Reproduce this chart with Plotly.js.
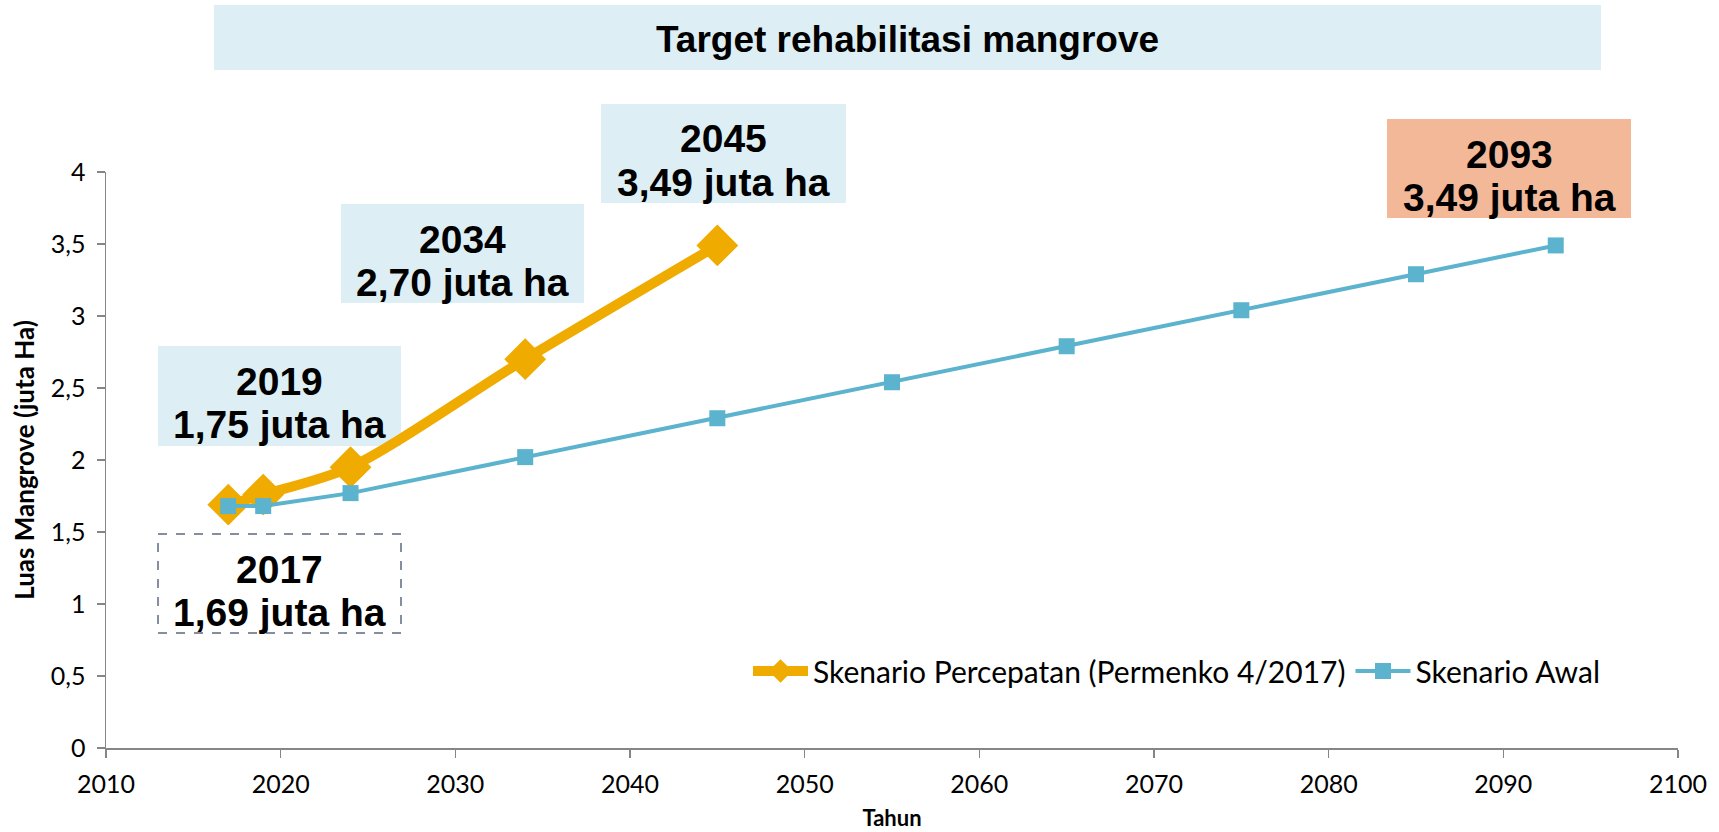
<!DOCTYPE html>
<html>
<head>
<meta charset="utf-8">
<script src="https://cdn.plot.ly/plotly-3.0.1.min.js"></script>
<style>
html,body{margin:0;padding:0;background:#fff;}
#chart{width:1719px;height:832px;}
</style>
</head>
<body>
<div id="chart"></div>
<script>
// ---- Data ----
var yearsPercepatan = [2017, 2019, 2024, 2034, 2045];
var valuesPercepatan = [1.69, 1.76, 1.95, 2.70, 3.49];
var yearsAwal = [2017, 2019, 2024, 2034, 2045, 2055, 2065, 2075, 2085, 2093];
var valuesAwal = [1.68, 1.68, 1.77, 2.02, 2.29, 2.54, 2.79, 3.04, 3.29, 3.49];
var seriesNames = ["Skenario Percepatan (Permenko 4/2017)", "Skenario Awal"];
var chartTitle = "Target rehabilitasi mangrove";
var xTitle = "Tahun";
var yTitle = "Luas Mangrove (juta Ha)";
var calloutYears = ["2017", "2019", "2034", "2045", "2093"];
var calloutValues = ["1,69 juta ha", "1,75 juta ha", "2,70 juta ha", "3,49 juta ha", "3,49 juta ha"];

// ---- Layout geometry (pixels) ----
var W = 1719, H = 832;
var mL = 106, mR = 41, mT = 172, mB = 84;
var pw = W - mL - mR, ph = H - mT - mB;
function px(x){ return (x - mL) / pw; }
function py(y){ return (H - mB - y) / ph; }

var lightBlue = "#DDEFF4";
var salmon = "#F2B898";
// callout boxes: [x0, x1, y0, y1, fill, dashed]
var boxes = [
  [158, 401, 534, 633, "rgba(0,0,0,0)", true],
  [158, 401, 346, 446, lightBlue, false],
  [341, 584, 204, 303, lightBlue, false],
  [601, 846, 104, 203, lightBlue, false],
  [1387, 1631, 119, 218, salmon, false]
];

var calloutFont = {family: "Liberation Sans, Arial, sans-serif", size: 39, color: "#000"};
var shapes = [{
  type: "rect", xref: "paper", yref: "paper", layer: "below",
  x0: px(214), x1: px(1601), y0: py(70), y1: py(5),
  fillcolor: lightBlue, line: {width: 0}
}];
var annotations = [{
  xref: "paper", yref: "paper", x: px(907), y: py(40),
  xanchor: "center", yanchor: "middle", showarrow: false,
  text: "<b>" + chartTitle + "</b>",
  font: {family: "Liberation Sans, Arial, sans-serif", size: 37, color: "#000"}
}];
boxes.forEach(function(b, i){
  shapes.push({
    type: "rect", xref: "paper", yref: "paper", layer: "below",
    x0: px(b[0]), x1: px(b[1]), y0: py(b[3]), y1: py(b[2]),
    fillcolor: b[4],
    line: b[5] ? {color: "#5E6A80", width: 1.5, dash: "dash"} : {width: 0}
  });
  var cx = px((b[0] + b[1]) / 2);
  annotations.push({
    xref: "paper", yref: "paper", x: cx, y: py(b[2] + 35),
    xanchor: "center", yanchor: "middle", showarrow: false,
    text: "<b>" + calloutYears[i] + "</b>", font: calloutFont
  });
  annotations.push({
    xref: "paper", yref: "paper", x: cx, y: py(b[2] + 78),
    xanchor: "center", yanchor: "middle", showarrow: false,
    text: "<b>" + calloutValues[i] + "</b>", font: calloutFont
  });
});

var traces = [
  {
    x: yearsPercepatan, y: valuesPercepatan, name: seriesNames[0],
    type: "scatter", mode: "lines+markers",
    line: {color: "#F0AB00", width: 10, shape: "spline", smoothing: 0.8},
    marker: {symbol: "diamond", size: 30, color: "#F0AB00", line: {color: "#F0AB00", width: 2}}
  },
  {
    x: yearsAwal, y: valuesAwal, name: seriesNames[1],
    type: "scatter", mode: "lines+markers",
    line: {color: "#5BB3CD", width: 4},
    marker: {symbol: "square", size: 16, color: "#5BB3CD"}
  }
];

var tickFont = {family: "Lato, Carlito, sans-serif", size: 25, color: "#000"};
var layout = {
  width: W, height: H,
  margin: {l: mL, r: mR, t: mT, b: mB, pad: 0},
  paper_bgcolor: "#fff", plot_bgcolor: "rgba(0,0,0,0)",
  separators: ", ",
  showlegend: true,
  legend: {
    orientation: "h", x: px(748), y: py(671), xanchor: "left", yanchor: "middle",
    font: {family: "Lato, Carlito, sans-serif", size: 30, color: "#000"},
    bgcolor: "rgba(0,0,0,0)", traceorder: "normal", itemwidth: 55
  },
  xaxis: {
    range: [2010, 2100], dtick: 10, tick0: 2010, showgrid: false, zeroline: false,
    showline: true, linecolor: "#868686", linewidth: 1.5,
    ticks: "outside", ticklen: 8, tickcolor: "#868686", tickwidth: 1.5,
    ticklabelstandoff: 5,
    tickfont: tickFont, fixedrange: true,
    title: {text: "<b>" + xTitle + "</b>", font: {family: "Lato, Carlito, sans-serif", size: 22, color: "#000"}, standoff: 14}
  },
  yaxis: {
    range: [0, 4], dtick: 0.5, tick0: 0, showgrid: false, zeroline: false,
    showline: true, linecolor: "#868686", linewidth: 1.5,
    ticks: "outside", ticklen: 8, tickcolor: "#868686", tickwidth: 1.5,
    ticklabelstandoff: 6,
    tickfont: tickFont, fixedrange: true,
    title: {text: "<b>" + yTitle + "</b>", font: {family: "Lato, Carlito, sans-serif", size: 26, color: "#000"}, standoff: 8}
  },
  shapes: shapes,
  annotations: annotations
};

Plotly.newPlot("chart", traces, layout, {displayModeBar: false, staticPlot: true});
</script>
</body>
</html>
